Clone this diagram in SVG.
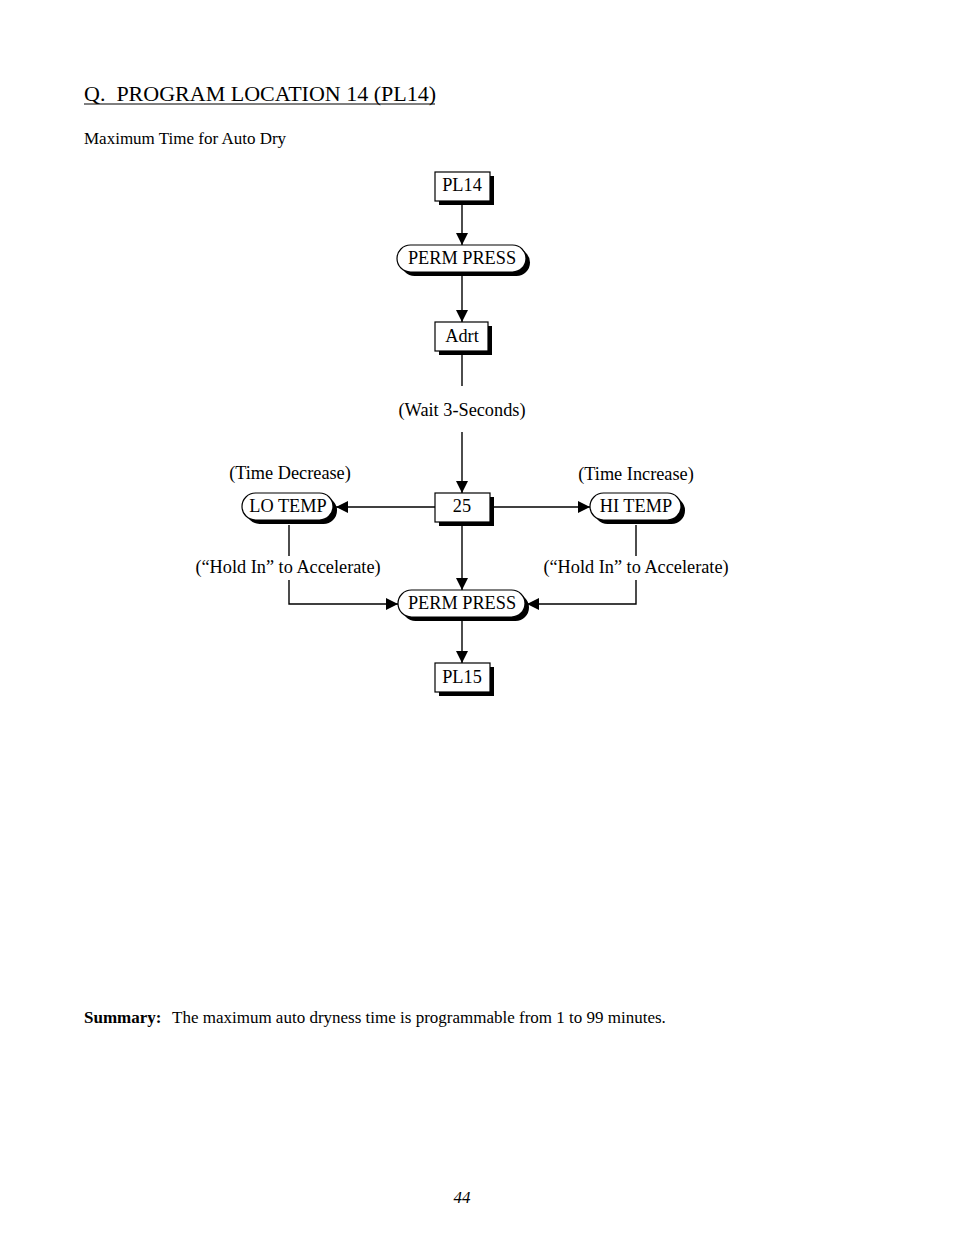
<svg xmlns="http://www.w3.org/2000/svg" width="954" height="1235" viewBox="0 0 954 1235">
<defs>
<style>
text{font-family:"Liberation Serif","Times New Roman",serif;fill:#000}
.lbl{font-size:18.3px;text-anchor:middle}
.box{fill:#fff;stroke:#000;stroke-width:1.2}
.sh{fill:#000}
.ln{stroke:#000;stroke-width:1.4;fill:none}
</style>
<marker id="ah" viewBox="0 0 10 10" refX="10" refY="5" markerWidth="15" markerHeight="12" markerUnits="userSpaceOnUse" orient="auto">
<path d="M0,0 L10,5 L0,10 z" fill="#000"/>
</marker>
</defs>
<rect width="954" height="1235" fill="#fff"/>
<text x="84" y="101" font-size="22" xml:space="preserve">Q.  PROGRAM LOCATION 14 (PL14)</text>
<line x1="84" y1="104" x2="435" y2="104" stroke="#000" stroke-width="1.2"/>
<text x="84" y="144" font-size="17">Maximum Time for Auto Dry</text>

<g id="connectors">
<line class="ln" x1="462" y1="202" x2="462" y2="245" marker-end="url(#ah)"/>
<line class="ln" x1="462" y1="273" x2="462" y2="322" marker-end="url(#ah)"/>
<line class="ln" x1="462" y1="351" x2="462" y2="386"/>
<line class="ln" x1="462" y1="432" x2="462" y2="493" marker-end="url(#ah)"/>
<line class="ln" x1="435" y1="507" x2="336" y2="507" marker-end="url(#ah)"/>
<line class="ln" x1="490" y1="507" x2="590" y2="507" marker-end="url(#ah)"/>
<line class="ln" x1="462" y1="522" x2="462" y2="590" marker-end="url(#ah)"/>
<line class="ln" x1="462" y1="617" x2="462" y2="663" marker-end="url(#ah)"/>
<polyline class="ln" points="289,525 289,556"/>
<polyline class="ln" points="289,580 289,604 398,604" marker-end="url(#ah)"/>
<polyline class="ln" points="636,525 636,556"/>
<polyline class="ln" points="636,580 636,604 527,604" marker-end="url(#ah)"/>
</g>

<g id="pl14">
<rect class="sh" x="439" y="176" width="55" height="29"/>
<rect class="box" x="435" y="172" width="55" height="29"/>
<text class="lbl" x="462" y="191">PL14</text>
</g>
<g id="permpress1">
<rect class="sh" x="401" y="249" width="129" height="27" rx="13.5"/>
<rect class="box" x="397" y="245" width="129" height="27" rx="13.5"/>
<text class="lbl" x="462" y="264">PERM PRESS</text>
</g>
<g id="adrt">
<rect class="sh" x="439" y="326" width="53" height="29"/>
<rect class="box" x="435" y="322" width="53" height="29"/>
<text class="lbl" x="462" y="342">Adrt</text>
</g>
<text class="lbl" x="462" y="416">(Wait 3-Seconds)</text>
<g id="n25">
<rect class="sh" x="439" y="497" width="55" height="29"/>
<rect class="box" x="435" y="493" width="55" height="29"/>
<text class="lbl" x="462" y="512">25</text>
</g>
<g id="lotemp">
<rect class="sh" x="246" y="497" width="91" height="27" rx="13.5"/>
<rect class="box" x="242" y="493" width="91" height="27" rx="13.5"/>
<text class="lbl" x="288" y="512">LO TEMP</text>
</g>
<text class="lbl" x="290" y="479">(Time Decrease)</text>
<g id="hitemp">
<rect class="sh" x="594" y="497" width="91" height="27" rx="13.5"/>
<rect class="box" x="590" y="493" width="91" height="27" rx="13.5"/>
<text class="lbl" x="636" y="512">HI TEMP</text>
</g>
<text class="lbl" x="636" y="480">(Time Increase)</text>
<text class="lbl" x="288" y="573">(“Hold In” to Accelerate)</text>
<text class="lbl" x="636" y="573">(“Hold In” to Accelerate)</text>
<g id="permpress2">
<rect class="sh" x="402" y="594" width="127" height="27" rx="13.5"/>
<rect class="box" x="398" y="590" width="127" height="27" rx="13.5"/>
<text class="lbl" x="462" y="609">PERM PRESS</text>
</g>
<g id="pl15">
<rect class="sh" x="439" y="667" width="55" height="29"/>
<rect class="box" x="435" y="663" width="55" height="29"/>
<text class="lbl" x="462" y="683">PL15</text>
</g>

<text x="84" y="1023" font-size="17"><tspan font-weight="bold">Summary:</tspan><tspan x="172">The maximum auto dryness time is programmable from 1 to 99 minutes.</tspan></text>
<text x="462" y="1203" font-size="17" font-style="italic" text-anchor="middle">44</text>
</svg>
